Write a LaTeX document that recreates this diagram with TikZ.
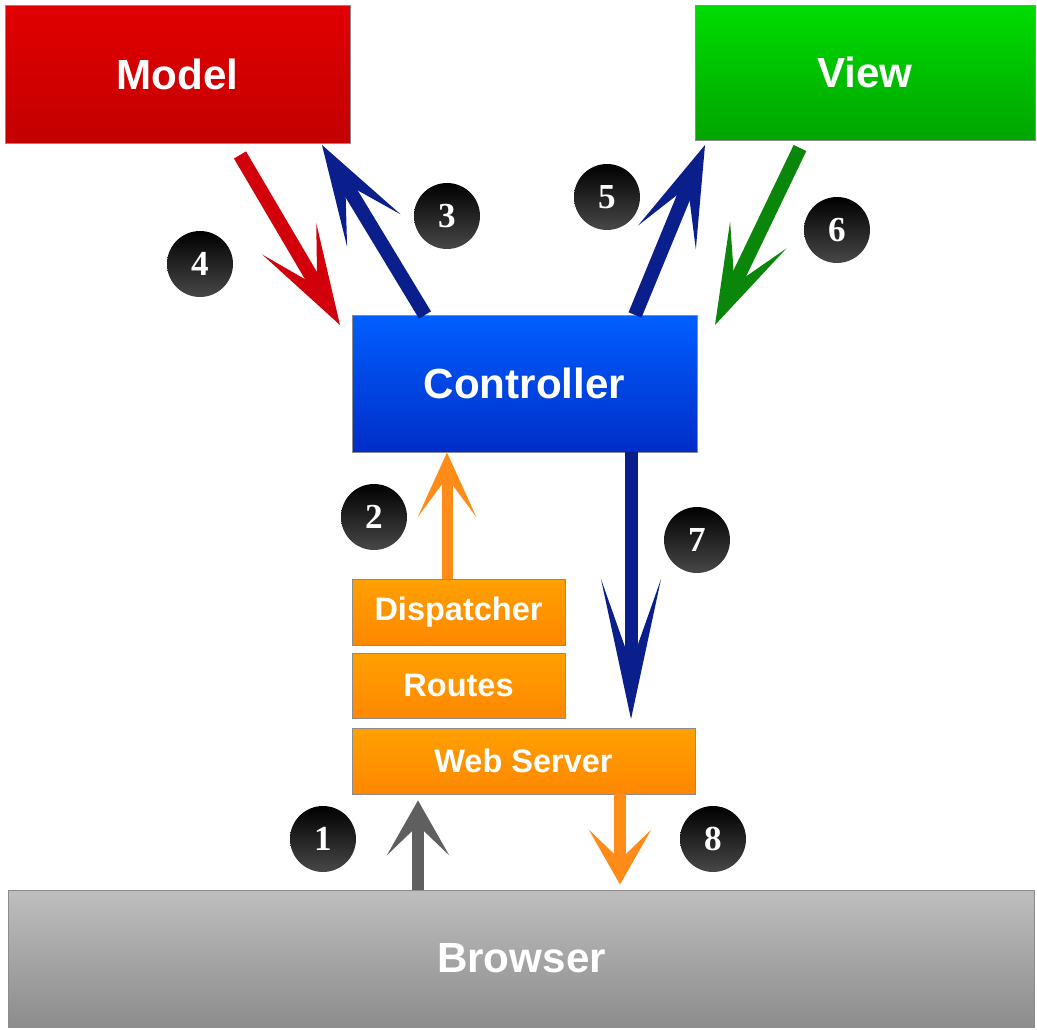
\documentclass[tikz,border=0pt]{standalone}
\usepackage{fontspec}
\setsansfont{Liberation Sans}
\newfontfamily\numfont{Liberation Serif}
\usetikzlibrary{arrows.meta,positioning}

\definecolor{modelred}{RGB}{225,0,0}
\definecolor{modeldark}{RGB}{195,0,0}
\definecolor{viewgreen}{RGB}{0,220,0}
\definecolor{viewdark}{RGB}{0,165,0}
\definecolor{ctrlblue}{RGB}{0,95,255}
\definecolor{ctrldark}{RGB}{0,45,200}
\definecolor{orangetop}{RGB}{255,160,0}
\definecolor{orangebot}{RGB}{255,135,0}
\definecolor{greytop}{RGB}{190,190,190}
\definecolor{greybot}{RGB}{140,140,140}
\definecolor{navy}{RGB}{10,30,140}
\definecolor{arrred}{RGB}{210,0,10}
\definecolor{arrgreen}{RGB}{10,135,10}
\definecolor{arrorange}{RGB}{255,140,25}
\definecolor{arrgrey}{RGB}{95,95,95}

\begin{document}
\begin{tikzpicture}[x=0.02cm,y=-0.02cm,semithick]
  \tikzstyle{box}=[rectangle,draw=black!45,line width=0.5pt,text=white,inner sep=0pt,font=\sffamily\bfseries\fontsize{24}{24}\selectfont]
  \tikzstyle{small box}=[box,minimum width=4.26cm,minimum height=1.31cm,top color=orangetop,bottom color=orangebot,font=\sffamily\bfseries\fontsize{18.5}{18.5}\selectfont]
  \tikzstyle{num}=[circle,top color=black,middle color=black,bottom color=black!72,text=white,minimum size=1.32cm,inner sep=0pt,font=\numfont\bfseries\fontsize{20}{20}\selectfont]
  \tikzstyle{flow}=[line width=0.28cm,-{Stealth[length=2cm,width=1.25cm,inset=1.1cm,line width=0pt]}]
  \tikzstyle{thin flow}=[line width=0.24cm,-{Stealth[length=1.1cm,width=1.25cm,inset=0.6cm,line width=0pt]}]

  \useasboundingbox (0,0) rectangle (1037,1030);

  % boxes
  \node[box,minimum width=6.9cm,minimum height=2.76cm,top color=modelred,bottom color=modeldark] (model) at (177.5,74) {Model};
  \node[box,minimum width=6.8cm,minimum height=2.7cm,top color=viewgreen,bottom color=viewdark] (view) at (865,72.5) {View};
  \node[box,minimum width=6.9cm,minimum height=2.74cm,top color=ctrlblue,bottom color=ctrldark] (controller) at (524.5,383.5) {Controller};
  \node[small box] (dispatcher) at (458.5,612.5) {Dispatcher};
  \node[small box] (routes) [below=0.14cm of dispatcher] {Routes};
  \node[small box,minimum width=6.86cm] (webserver) [below=0.18cm of routes.south west,anchor=north west] {Web Server};
  \node[box,minimum width=20.54cm,minimum height=2.74cm,top color=greytop,bottom color=greybot] (browser) at (521.5,958.5) {Browser};

  % numbered steps
  \node[num] (n1) at (323,839) {1};
  \node[num] (n2) at (374,517) {2};
  \node[num] (n3) at (447,216) {3};
  \node[num] (n4) at (200,264) {4};
  \node[num] (n5) at (607,197) {5};
  \node[num] (n6) at (837,230) {6};
  \node[num] (n7) at (697,540) {7};
  \node[num] (n8) at (713,839) {8};

  % arrow ends
  \coordinate (s1) at (418,888);
  \coordinate (s2) at (447,580);
  \coordinate (c3) at (425,315);
  \coordinate (m3) at (322,145);
  \coordinate (m4) at (240,155);
  \coordinate (c4) at (340,325);
  \coordinate (c5) at (635,315);
  \coordinate (v5) at (705,145);
  \coordinate (v6) at (800,148);
  \coordinate (c6) at (715,325);
  \coordinate (s7) at (631,452);
  \coordinate (s8) at (620,797);

  \draw[thin flow,arrgrey,shorten >=0.12cm] (s1 |- browser.north) -- (s1 |- webserver.south);
  \draw[line width=0.22cm,arrorange,-{Stealth[length=1.3cm,width=1.18cm,inset=0.8cm,line width=0pt]}] (s2 |- dispatcher.north) -- (s2 |- controller.south);
  \draw[flow,navy] (c3) -- (m3);
  \draw[flow,arrred] (m4) -- (c4);
  \draw[flow,navy] (c5) -- (v5);
  \draw[flow,arrgreen] (v6) -- (c6);
  \draw[line width=0.26cm,navy,-{Stealth[length=2.8cm,width=1.2cm,inset=1.7cm,line width=0pt]}] (s7 |- controller.south) -- (s7 |- routes.south);
  \draw[thin flow,arrorange,shorten >=0.1cm] (s8 |- webserver.south) -- (s8 |- browser.north);
\end{tikzpicture}
\end{document}
